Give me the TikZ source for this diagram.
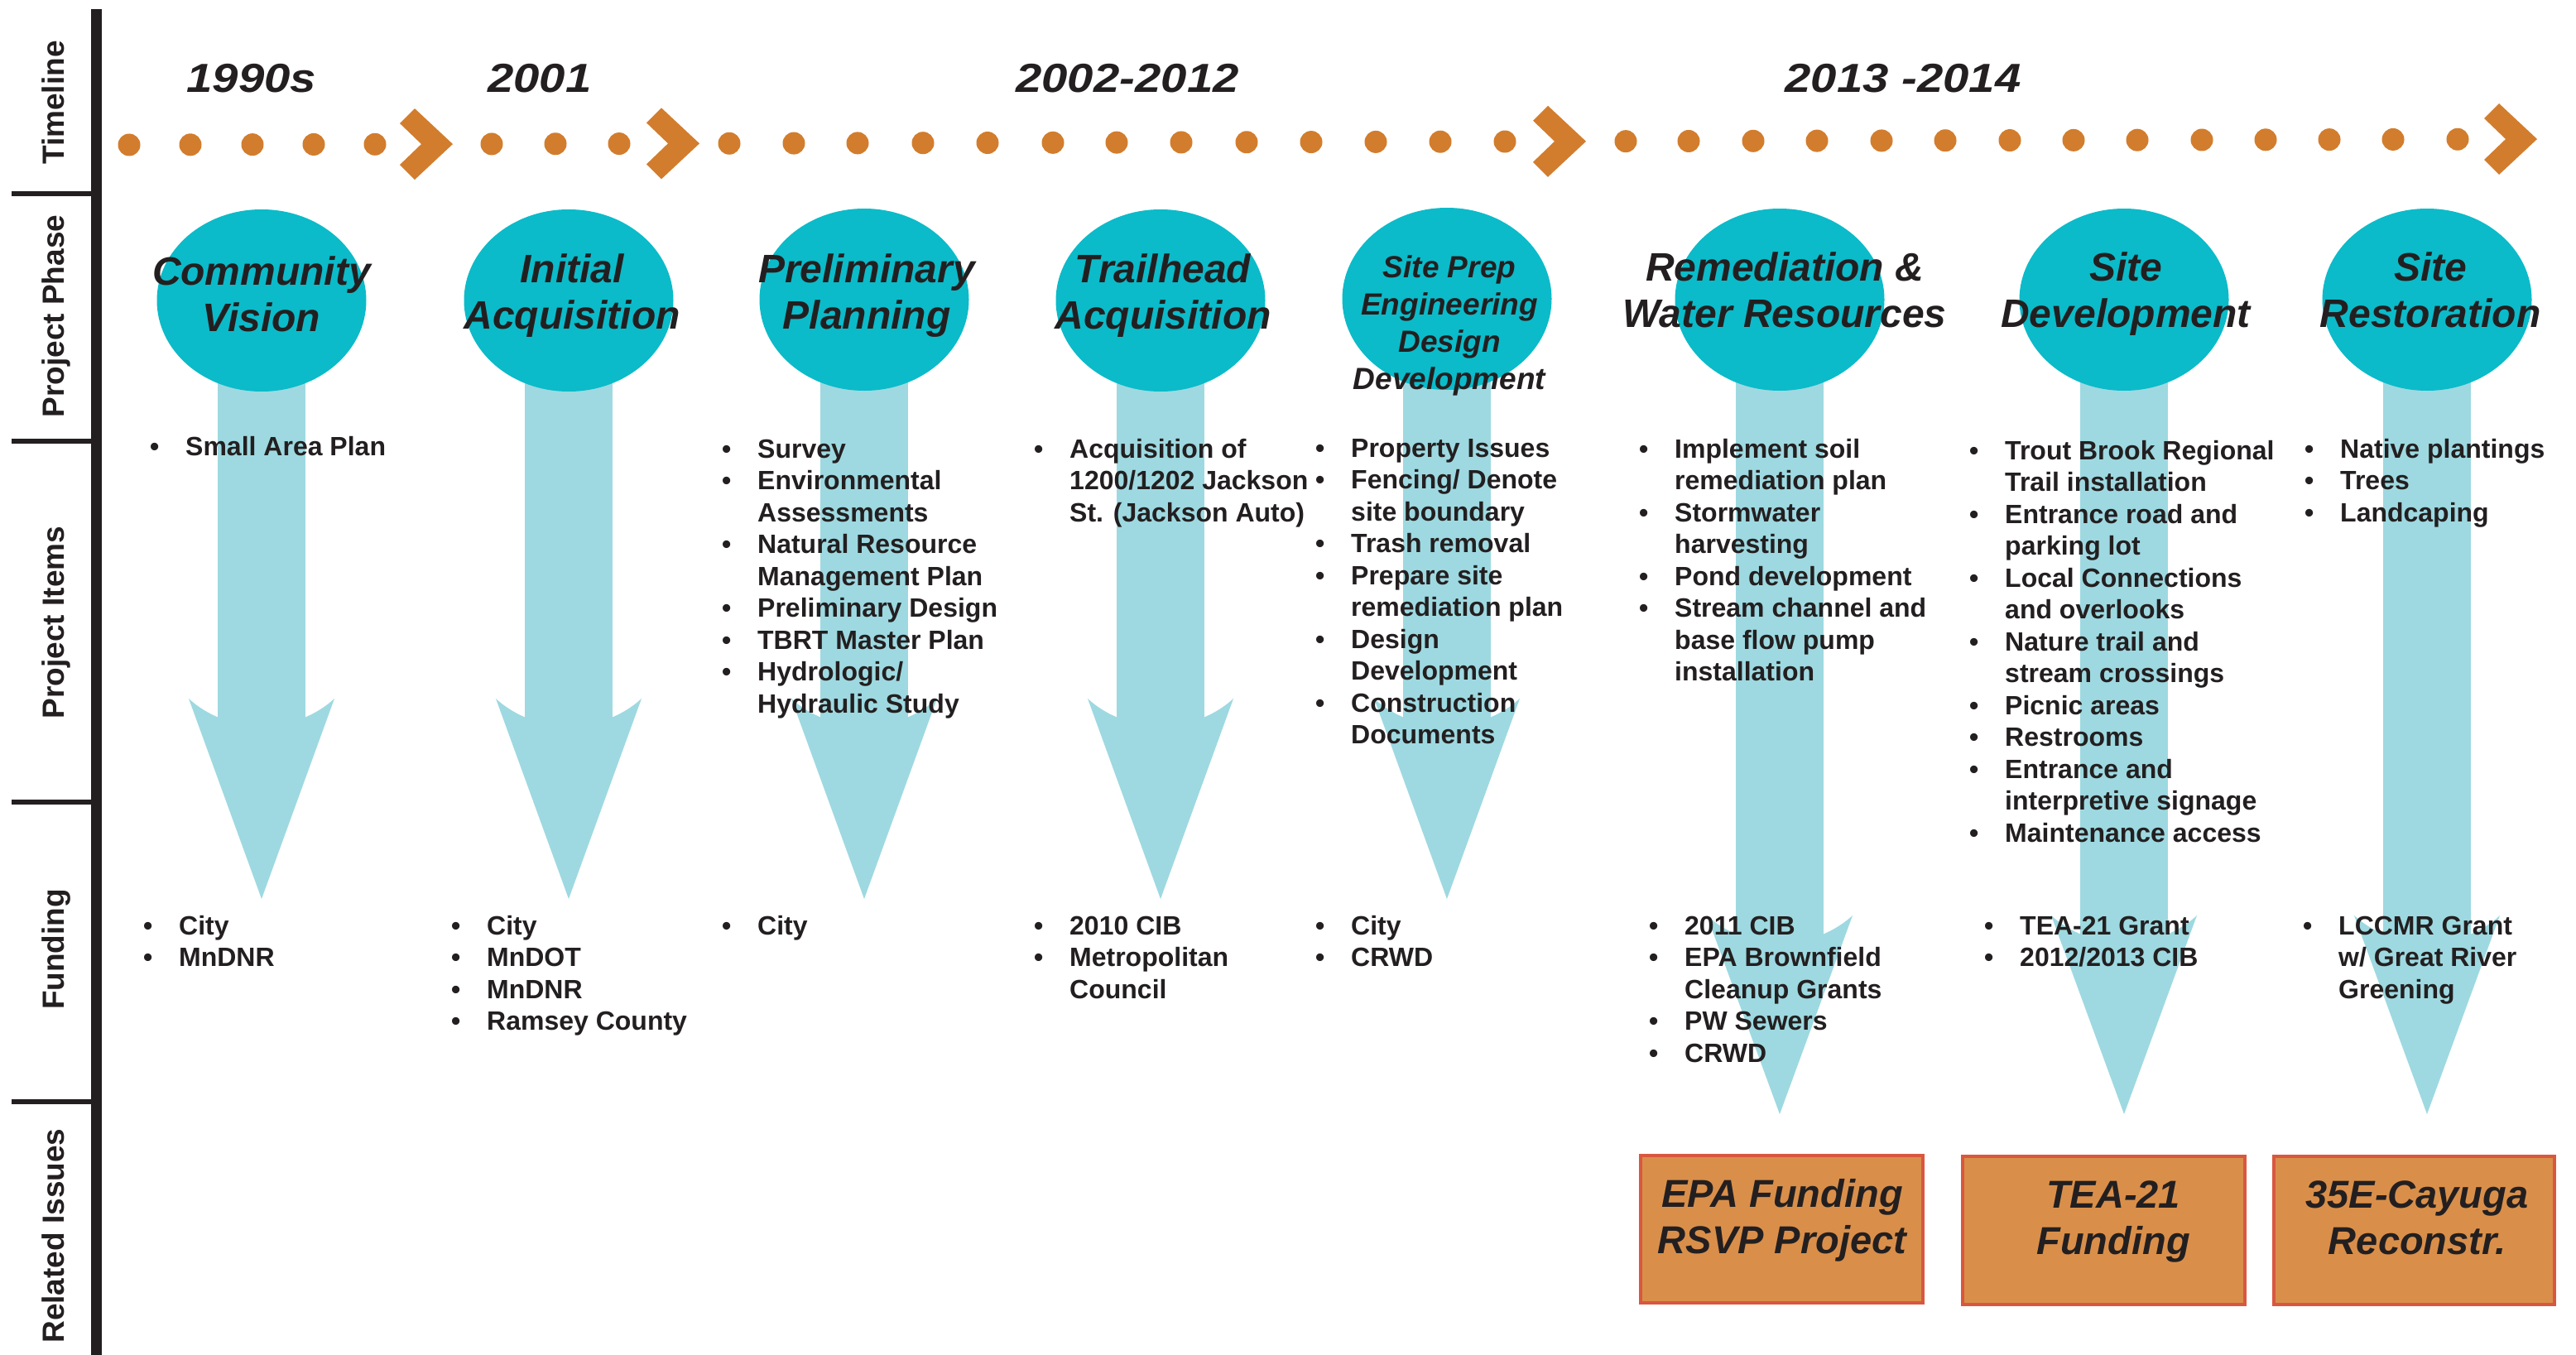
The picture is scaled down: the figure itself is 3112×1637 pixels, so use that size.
\documentclass[tikz,border=0pt]{standalone}
\usepackage{fontspec}
\setmainfont{Liberation Sans}
\usepackage{graphicx}
\usetikzlibrary{shapes.geometric}
\definecolor{ink}{HTML}{231F20}
\definecolor{phasec}{HTML}{0BBBC9}
\definecolor{arrowc}{HTML}{9ED9E1}
\definecolor{timec}{HTML}{D27D2D}
\definecolor{boxfill}{HTML}{D98F4A}
\definecolor{boxline}{HTML}{D9573F}
\newcommand{\bu}{\makebox[43pt][l]{\textbullet}}
\newcommand{\cu}{\hspace*{43pt}}
\newcommand{\centerstack}[1]{\begin{tabular}[t]{@{}c@{}}#1\end{tabular}}
\newcommand{\itemstack}[1]{\begin{tabular}[t]{@{}l@{}}#1\end{tabular}}
\tikzset{
  rowlabel/.style={font=\fontsize{37}{44}\selectfont\bfseries, text=ink, rotate=90, anchor=base, inner sep=0pt},
  yearlabel/.style={font=\fontsize{49}{58}\selectfont\bfseries\itshape, text=ink, anchor=base, inner sep=0pt},
  phase/.style={ellipse, fill=phasec, minimum width=253pt, minimum height=220pt, inner sep=0pt},
  phasetitle/.style={font=\fontsize{48}{56.5}\selectfont\bfseries\itshape, text=ink, anchor=base, inner sep=0pt},
  smalltitle/.style={font=\fontsize{37}{45}\selectfont\bfseries\itshape, text=ink, anchor=base, inner sep=0pt},
  itemlist/.style={font=\fontsize{32}{38.5}\selectfont\bfseries, text=ink, anchor=base west, inner sep=0pt},
  issue/.style={draw=boxline, line width=4pt, fill=boxfill, inner sep=0pt},
  issuetext/.style={font=\fontsize{47}{56}\selectfont\bfseries\itshape, text=ink, anchor=base, inner sep=0pt},
}
\begin{document}
\begin{tikzpicture}[x=1pt,y=-1pt]
\useasboundingbox (0,0) rectangle (3112,1637);
\fill[white] (0,0) rectangle (3112,1637);

% left frame
\fill[ink] (110,11) rectangle (123,1637);
\foreach \s in {234,533,969,1331} {
  \fill[ink] (14,{\s-3}) rectangle (110,{\s+3});
}
\node[rowlabel] (lbltime) at (77,124) {Timeline};
\node[rowlabel] (lblphase) at (77,382) {Project Phase};
\node[rowlabel] (lblitems) at (77,752) {Project Items};
\node[rowlabel] (lblfund) at (77,1147) {Funding};
\node[rowlabel] (lblrel) at (77,1493) {Related Issues};

% timeline
\foreach \x in {156,230,305,379,453,594,671,748,881,959,1036,1115,1193,1272,1349,1427,1506,1584,1662,1740,1818,1964,2040,2118,2195,2273,2350,2428,2505,2582,2660,2737,2814,2891,2969} {
  \fill[timec] (\x,{175-(\x-156)*0.0024}) circle (13.5pt);
}
\foreach \tx in {547,845,1916,3065} {
  \pgfmathsetmacro\ty{175-(\tx-156)*0.0024}
  \fill[timec] ({\tx-46},{\ty-43}) -- (\tx,\ty) -- ({\tx-46},{\ty+43}) -- ({\tx-64},{\ty+25}) -- ({\tx-38},\ty) -- ({\tx-64},{\ty-25}) -- cycle;
}
\node[yearlabel] (y1) at (304,112) {\scalebox{1.15}[1]{1990s}};
\node[yearlabel] (y2) at (652,112) {\scalebox{1.15}[1]{2001}};
\node[yearlabel] (y3) at (1362,112) {\scalebox{1.15}[1]{2002-2012}};
\node[yearlabel] (y4) at (2299,112) {\scalebox{1.15}[1]{2013 -2014}};

% arrows
\foreach \c/\h/\tp in {316/844/1086, 687/844/1086, 1044/844/1086, 1402/844/1086, 1748/844/1086, 2150/1106/1346, 2566/1106/1346, 2932/1106/1346} {
  \fill[arrowc] ({\c-53},363) rectangle ({\c+53},{\h+40});
  \fill[arrowc] ({\c-88},\h) -- (\c,\tp) -- ({\c+88},\h) .. controls ({\c+40},{\h+44}) and ({\c-40},{\h+44}) .. ({\c-88},\h) -- cycle;
}

% phases
\node[phase] (p1) at (316,363) {};
\node[phase] (p2) at (687,363) {};
\node[phase] (p3) at (1044,362) {};
\node[phase] (p4) at (1402,363) {};
\node[phase] (p5) at (1748,361) {};
\node[phase] (p6) at (2150,362) {};
\node[phase] (p7) at (2566,362) {};
\node[phase] (p8) at (2932,362) {};

\node[phasetitle] (t1) at (316,344) {\centerstack{Community\\Vision}};
\node[phasetitle] (t2) at (691,341) {\centerstack{Initial\\Acquisition}};
\node[phasetitle] (t3) at (1047,341) {\centerstack{Preliminary\\Planning}};
\node[phasetitle] (t4) at (1405,341) {\centerstack{Trailhead\\Acquisition}};
\node[smalltitle] (t5) at (1751,335) {\centerstack{Site Prep\\Engineering\\Design\\Development}};
\node[phasetitle] (t6) at (2156,339) {\centerstack{Remediation \&\\Water Resources}};
\node[phasetitle] (t7) at (2568,339) {\centerstack{Site\\Development}};
\node[phasetitle] (t8) at (2936,339) {\centerstack{Site\\Restoration}};

% project items
\node[itemlist] (i1) at (181,550) {\itemstack{\bu Small Area Plan}};
\node[itemlist] (i3) at (872,553) {\itemstack{\bu Survey\\ \bu Environmental\\ \cu Assessments\\ \bu Natural Resource\\ \cu Management Plan\\ \bu Preliminary Design\\ \bu TBRT Master Plan\\ \bu Hydrologic/\\ \cu Hydraulic Study}};
\node[itemlist] (i4) at (1249,553) {\itemstack{\bu Acquisition of\\ \cu 1200/1202 Jackson\\ \cu St. (Jackson Auto)}};
\node[itemlist] (i5) at (1589,552) {\itemstack{\bu Property Issues\\ \bu Fencing/ Denote\\ \cu site boundary\\ \bu Trash removal\\ \bu Prepare site\\ \cu remediation plan\\ \bu Design\\ \cu Development\\ \bu Construction\\ \cu Documents}};
\node[itemlist] (i6) at (1980,553) {\itemstack{\bu Implement soil\\ \cu remediation plan\\ \bu Stormwater\\ \cu harvesting\\ \bu Pond development\\ \bu Stream channel and\\ \cu base flow pump\\ \cu installation}};
\node[itemlist] (i7) at (2379,555) {\itemstack{\bu Trout Brook Regional\\ \cu Trail installation\\ \bu Entrance road and\\ \cu parking lot\\ \bu Local Connections\\ \cu and overlooks\\ \bu Nature trail and\\ \cu stream crossings\\ \bu Picnic areas\\ \bu Restrooms\\ \bu Entrance and\\ \cu interpretive signage\\ \bu Maintenance access}};
\node[itemlist] (i8) at (2784,553) {\itemstack{\bu Native plantings\\ \bu Trees\\ \bu Landcaping}};

% funding
\node[itemlist] (f1) at (173,1129) {\itemstack{\bu City\\ \bu MnDNR}};
\node[itemlist] (f2) at (545,1129) {\itemstack{\bu City\\ \bu MnDOT\\ \bu MnDNR\\ \bu Ramsey County}};
\node[itemlist] (f3) at (872,1129) {\itemstack{\bu City}};
\node[itemlist] (f4) at (1249,1129) {\itemstack{\bu 2010 CIB\\ \bu Metropolitan\\ \cu Council}};
\node[itemlist] (f5) at (1589,1129) {\itemstack{\bu City\\ \bu CRWD}};
\node[itemlist] (f6) at (1992,1129) {\itemstack{\bu 2011 CIB\\ \bu EPA Brownfield\\ \cu Cleanup Grants\\ \bu PW Sewers\\ \bu CRWD}};
\node[itemlist] (f7) at (2397,1129) {\itemstack{\bu TEA-21 Grant\\ \bu 2012/2013 CIB}};
\node[itemlist] (f8) at (2782,1129) {\itemstack{\bu LCCMR Grant\\ \cu w/ Great River\\ \cu Greening}};

% related issues
\node[issue, minimum width=341pt, minimum height=178pt] (b1) at (2152.5,1485) {};
\node[issue, minimum width=341pt, minimum height=179pt] (b2) at (2541.5,1486.5) {};
\node[issue, minimum width=339pt, minimum height=179pt] (b3) at (2916.5,1486.5) {};
\node[issuetext] (bt1) at (2153,1458) {\centerstack{EPA Funding\\RSVP Project}};
\node[issuetext] (bt2) at (2553,1459) {\centerstack{TEA-21\\Funding}};
\node[issuetext] (bt3) at (2920,1459) {\centerstack{35E-Cayuga\\Reconstr.}};
\end{tikzpicture}
\end{document}
